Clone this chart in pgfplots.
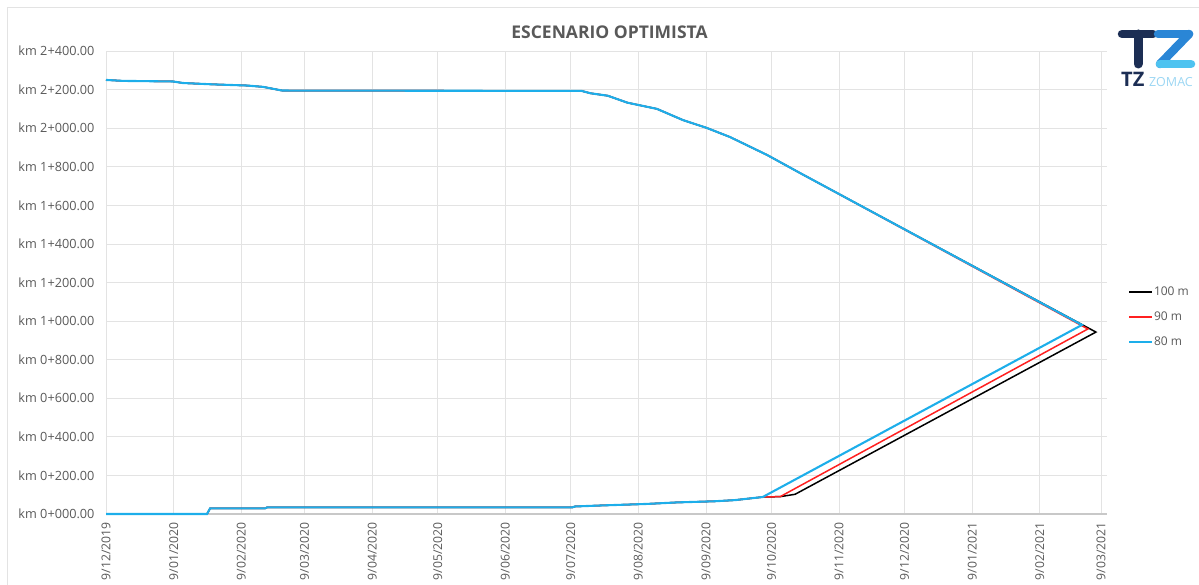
\documentclass[border=0pt]{standalone}
\usepackage{fontspec}
\setmainfont{Open Sans}
\usepackage{pgfplots}
\pgfplotsset{compat=1.18}
\definecolor{txtgray}{HTML}{595959}
\definecolor{gridgray}{HTML}{E3E3E3}
\definecolor{axgray}{HTML}{C8C8C8}
\definecolor{xlblue}{HTML}{1DAEEA}
\definecolor{xlred}{HTML}{FF2020}
\definecolor{navy}{HTML}{1C2E54}
\definecolor{zblue}{HTML}{2A86D6}
\definecolor{zlight}{HTML}{4EC3F0}
\definecolor{zomac}{HTML}{9BD6F3}
\begin{document}
\begin{tikzpicture}[x=1pt,y=1pt]
\useasboundingbox (0,0) rectangle (1199,585);
% chart frame
\draw[gridgray, line width=1pt] (7,0) -- (7,577) -- (1199,577);
% title
\node[anchor=base, text=txtgray, font=\fontsize{17.5}{20}\selectfont\bfseries, inner sep=0pt] at (609.5,546.5) {ESCENARIO OPTIMISTA};
% logo
\draw[navy, line width=8.5pt, line cap=round] (1122,551) -- (1153,551);
\draw[navy, line width=9pt, line cap=round] (1138,551) -- (1138,521);
\draw[zblue, line width=8.5pt, line cap=round] (1158,551) -- (1189,551);
\draw[zblue, line width=8.5pt, line cap=round] (1189,551) -- (1160,521);
\draw[zlight, line width=8.5pt, line cap=round] (1160,521) -- (1191,521);
\node[anchor=base west, inner sep=0pt, text=navy, font=\fontsize{20}{22}\selectfont\bfseries] at (1121,498) {TZ};
\node[anchor=base west, inner sep=0pt, text=zomac, font=\fontsize{12.5}{14}\selectfont] at (1149,498) {ZOMAC};
\begin{axis}[
  at={(106pt,71pt)}, anchor=origin,
  scale only axis, width=1001.5pt, height=463pt,
  xmin=0, xmax=459, ymin=0, ymax=2400,
  axis x line*=bottom, axis y line*=left,
  x axis line style={axgray, line width=1.6pt},
  y axis line style={gridgray, line width=0.8pt},
  xtick={0,31,62,91,122,152,183,213,244,275,305,336,366,397,428,456},
  xticklabels={9/12/2019,9/01/2020,9/02/2020,9/03/2020,9/04/2020,9/05/2020,9/06/2020,9/07/2020,9/08/2020,9/09/2020,9/10/2020,9/11/2020,9/12/2020,9/01/2021,9/02/2021,9/03/2021},
  ytick={0,200,...,2400},
  yticklabels={km 0+000.00,km 0+200.00,km 0+400.00,km 0+600.00,km 0+800.00,km 1+000.00,km 1+200.00,km 1+400.00,km 1+600.00,km 1+800.00,km 2+000.00,km 2+200.00,km 2+400.00},
  major tick length=0pt,
  xmajorgrids, ymajorgrids,
  major grid style={gridgray, line width=0.8pt},
  xticklabel style={text=txtgray, font=\fontsize{12.2}{14}\selectfont, rotate=90, anchor=east},
  yticklabel style={text=txtgray, font=\fontsize{12.7}{14}\selectfont, anchor=east},
  xticklabel shift=5pt,
  yticklabel shift=8pt,
  legend style={at={(1.0175,0.498)}, anchor=north west, draw=none, fill=none,
    font=\fontsize{12}{14}\selectfont, text=txtgray, row sep=13pt,
    nodes={inner sep=1pt}},
  legend cell align=left,
  clip=false,
]
\addlegendimage{black, line width=1.8pt}
\addlegendentry{100 m}
\addlegendimage{xlred, line width=1.8pt}
\addlegendentry{90 m}
\addlegendimage{xlblue, line width=1.8pt}
\addlegendentry{80 m}
\pgfplotsset{legend image code/.code={\draw[#1] (0pt,0pt) -- (23pt,0pt);}}
\addplot[black, line width=1.5pt, forget plot] coordinates {
(0,2250) (7.8,2245) (30.7,2242) (35.3,2234) (49,2227) (64.6,2221) (72,2214) (80.7,2195)
(218,2193) (222,2181) (230,2168) (239,2132) (252.5,2100) (264.4,2042) (275.4,2001) (286,1954)
(303,1861) (318,1768) (453.7,943)
(315.8,102) (309,90) (301,88) (288.3,72) (279,66) (261.7,60) (247.5,52) (226.4,44) (215,39)
(213.6,34) (73.8,34) (72.9,29) (47.7,29) (46.3,0) (0,0)
};
\addplot[xlred, line width=1.5pt, forget plot] coordinates {
(0,2250) (7.8,2245) (30.7,2242) (35.3,2234) (49,2227) (64.6,2221) (72,2214) (80.7,2195)
(218,2193) (222,2181) (230,2168) (239,2132) (252.5,2100) (264.4,2042) (275.4,2001) (286,1954)
(303,1861) (318,1768) (450,959)
(309,90) (301,88) (288.3,72) (279,66) (261.7,60) (247.5,52) (226.4,44) (215,39)
(213.6,34) (73.8,34) (72.9,29) (47.7,29) (46.3,0) (0,0)
};
\addplot[xlblue, line width=2.1pt, forget plot] coordinates {
(0,2250) (7.8,2245) (30.7,2242) (35.3,2234) (49,2227) (64.6,2221) (72,2214) (80.7,2195)
(218,2193) (222,2181) (230,2168) (239,2132) (252.5,2100) (264.4,2042) (275.4,2001) (286,1954)
(303,1861) (318,1768) (447.3,980)
(301,88) (288.3,72) (279,66) (261.7,60) (247.5,52) (226.4,44) (215,39)
(213.6,34) (73.8,34) (72.9,29) (47.7,29) (46.3,0) (0,0)
};
\end{axis}
\end{tikzpicture}
\end{document}
